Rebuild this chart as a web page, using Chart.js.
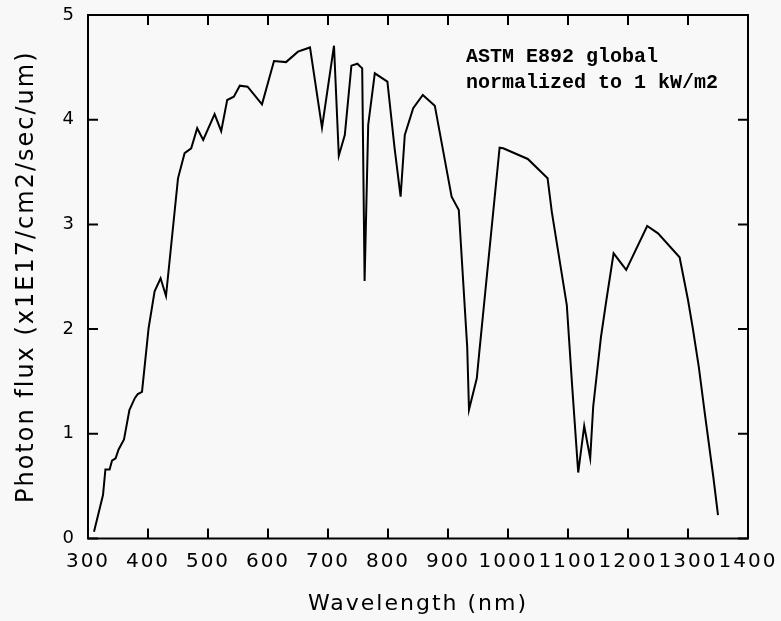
<!DOCTYPE html>
<html>
<head>
<meta charset="utf-8">
<script src="https://cdn.jsdelivr.net/npm/chart.js@4"></script>
<style>
  html, body { margin: 0; padding: 0; background: #f8f8f8; }
  #wrap { width: 781px; height: 621px; }
</style>
</head>
<body>
<div id="wrap"><canvas id="c" width="781" height="621"></canvas></div>
<script>
// Wavelength (nm)
const wavelengths = [310,325,329,336,340,346,351,360,369,378,383,390,401,411,421,430,450,461,472,482,492,511,522,532,543,553,566,590,610,630,650,670,690,710,718,728,739,749,757,761,767,778,799,811,821,828,842,858,878,906,918,932,935,948,952,986,992,1033,1066,1073,1098,1107,1117,1127,1137,1142,1155,1164,1176,1197,1232,1250,1286,1300,1308,1318,1328,1342,1350];
// Photon flux (x1E17/cm2/sec/um)
const photonFlux = [0.065,0.415,0.66,0.66,0.743,0.766,0.85,0.947,1.227,1.34,1.38,1.40,2.01,2.36,2.485,2.316,3.44,3.68,3.727,3.918,3.806,4.054,3.89,4.188,4.22,4.325,4.315,4.147,4.56,4.55,4.65,4.69,3.924,4.707,3.656,3.854,4.516,4.535,4.49,2.46,3.95,4.443,4.363,3.727,3.265,3.854,4.109,4.236,4.134,3.265,3.138,1.83,1.23,1.53,1.77,3.733,3.727,3.625,3.44,3.12,2.23,1.45,0.63,1.075,0.766,1.26,1.927,2.278,2.724,2.565,2.985,2.915,2.686,2.278,2.008,1.64,1.196,0.597,0.224];
const xTicks = [300,400,500,600,700,800,900,1000,1100,1200,1300,1400];
const yTicks = [0,1,2,3,4,5];
const annotationLines = ["ASTM E892 global", "normalized to 1 kW/m2"];

const points = wavelengths.map((w, i) => ({x: w, y: photonFlux[i]}));

const framePlugin = {
  id: 'frame',
  beforeDraw(chart) {
    const ctx = chart.ctx;
    ctx.fillStyle = '#f8f8f8';
    ctx.fillRect(0, 0, chart.width, chart.height);
    ctx.letterSpacing = '2px';
  },
  afterDraw(chart) {
    const {ctx, chartArea: a, scales} = chart;
    const L = 10;
    ctx.save();
    ctx.letterSpacing = '0px';
    ctx.strokeStyle = '#000';
    ctx.lineWidth = 2;
    ctx.strokeRect(a.left, a.top, a.right - a.left, a.bottom - a.top);
    ctx.beginPath();
    xTicks.forEach(v => {
      const px = scales.x.getPixelForValue(v);
      ctx.moveTo(px, a.bottom); ctx.lineTo(px, a.bottom - L);
      ctx.moveTo(px, a.top); ctx.lineTo(px, a.top + L);
    });
    yTicks.forEach(v => {
      const py = scales.y.getPixelForValue(v);
      ctx.moveTo(a.left, py); ctx.lineTo(a.left + L, py);
      ctx.moveTo(a.right, py); ctx.lineTo(a.right - L, py);
    });
    ctx.stroke();
    // annotation text
    ctx.fillStyle = '#000';
    ctx.font = 'bold 20px "Liberation Mono"';
    ctx.textBaseline = 'alphabetic';
    ctx.textAlign = 'left';
    const tx = a.left + 378;
    ctx.fillText(annotationLines[0], tx, a.top + 47);
    ctx.fillText(annotationLines[1], tx, a.top + 73);
    ctx.restore();
  }
};

new Chart(document.getElementById('c'), {
  type: 'line',
  data: {
    datasets: [{
      data: points,
      borderColor: '#000',
      borderWidth: 2,
      pointRadius: 0,
      tension: 0,
      fill: false
    }]
  },
  options: {
    responsive: false,
    animation: false,
    devicePixelRatio: 1,
    layout: { padding: { left: 0, top: 15, right: 33, bottom: 0 } },
    plugins: { legend: { display: false }, tooltip: { enabled: false } },
    scales: {
      x: {
        type: 'linear', min: 300, max: 1400,
        afterBuildTicks(scale) { scale.ticks = xTicks.map(v => ({value: v})); },
        afterFit(scale) { scale.height = 82.5; scale.paddingLeft = 0; scale.paddingRight = 0; },
        grid: { display: false, drawTicks: false },
        border: { display: false },
        ticks: { color: '#000', font: { family: 'DejaVu Sans', size: 20 }, padding: 11, maxRotation: 0, autoSkip: false, callback: v => String(v) },
        title: { display: true, text: 'Wavelength (nm)', color: '#000', font: { family: 'DejaVu Sans', size: 22 }, padding: { top: 0, bottom: 4 } }
      },
      y: {
        type: 'linear', min: 0, max: 5,
        afterBuildTicks(scale) { scale.ticks = yTicks.map(v => ({value: v})); },
        afterFit(scale) { scale.width = 88; scale.paddingTop = 0; scale.paddingBottom = 0; },
        grid: { display: false, drawTicks: false },
        border: { display: false },
        ticks: { color: '#000', font: { family: 'DejaVu Sans', size: 18 }, padding: 12, callback: v => String(v) },
        title: { display: true, text: 'Photon flux (x1E17/cm2/sec/um)', color: '#000', font: { family: 'DejaVu Sans', size: 24 }, padding: { top: 12, bottom: 0 } }
      }
    }
  },
  plugins: [framePlugin]
});
</script>
</body>
</html>
